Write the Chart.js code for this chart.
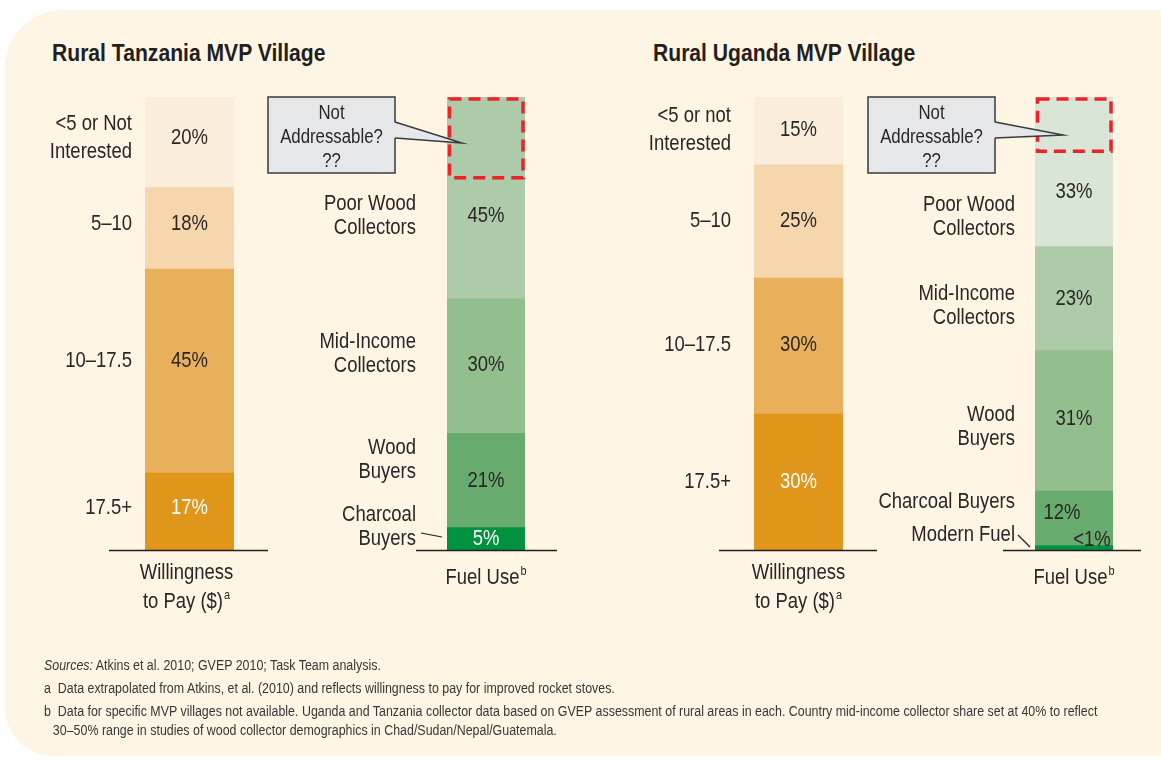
<!DOCTYPE html>
<html><head><meta charset="utf-8">
<script src="https://cdn.jsdelivr.net/npm/chart.js@4/dist/chart.umd.min.js"></script>
<style>
html,body{margin:0;padding:0;background:#fff;width:1161px;height:761px;overflow:hidden;}
#bg{position:absolute;left:5px;top:10px;width:1156px;height:746px;background:#FEF5E4;border-radius:58px 0 0 48px;}
canvas{position:absolute;left:0;top:0;}
.title{position:absolute;top:39px;font-family:"Liberation Sans",Arial,sans-serif;font-weight:bold;font-size:24px;line-height:28px;color:#231F20;white-space:nowrap;transform:scaleX(0.88);transform-origin:0 0;}
.notes{position:absolute;left:44px;top:656px;font-family:"Liberation Sans",Arial,sans-serif;font-size:14px;color:#3a3637;line-height:19px;white-space:nowrap;transform:scaleX(0.887);transform-origin:0 0;}
.notes div{margin:0 0 4px 0;}
.notes .cont{margin-top:-4px;padding-left:10px;}
</style>
</head><body>
<div id="bg"></div>
<div class="title" style="left:52px">Rural Tanzania MVP Village</div>
<div class="title" style="left:653px">Rural Uganda MVP Village</div>
<canvas id="c1" width="1161" height="761"></canvas>
<canvas id="c2" width="1161" height="761"></canvas>
<canvas id="c3" width="1161" height="761"></canvas>
<canvas id="c4" width="1161" height="761"></canvas>
<div class="notes">
<div><i>Sources:</i> Atkins et al. 2010; GVEP 2010; Task Team analysis.</div>
<div>a&nbsp; Data extrapolated from Atkins, et al. (2010) and reflects willingness to pay for improved rocket stoves.</div>
<div>b&nbsp; Data for specific MVP villages not available. Uganda and Tanzania collector data based on GVEP assessment of rural areas in each. Country mid-income collector share set at 40% to reflect</div>
<div class="cont">30–50% range in studies of wood collector demographics in Chad/Sudan/Nepal/Guatemala.</div>
</div>
<script>
// ---------- DATA (top segment first) ----------
const tzPayBands = [['<5 or Not','Interested'], ['5–10'], ['10–17.5'], ['17.5+']];
const tzPayShares = [20, 18, 45, 17];
const tzFuelGroups = [['Poor Wood','Collectors'], ['Mid-Income','Collectors'], ['Wood','Buyers'], ['Charcoal','Buyers']];
const tzFuelShares = [45, 30, 21, 5];
const tzFuelLabels = ['45%', '30%', '21%', '5%'];
const tzNotAddressable = 18;

const ugPayBands = [['<5 or not','Interested'], ['5–10'], ['10–17.5'], ['17.5+']];
const ugPayShares = [15, 25, 30, 30];
const ugFuelGroups = [['Poor Wood','Collectors'], ['Mid-Income','Collectors'], ['Wood','Buyers'], ['Charcoal Buyers'], ['Modern Fuel']];
const ugFuelShares = [33, 23, 31, 12, 1];
const ugFuelLabels = ['33%', '23%', '31%', '12%', '<1%'];
const ugNotAddressable = 12;

const payAxisTitle = ['Willingness', 'to Pay ($)'];
const payAxisNote = 'a';
const fuelAxisTitle = ['Fuel Use'];
const fuelAxisNote = 'b';
const calloutText = ['Not', 'Addressable?', '??'];

// ---------- STYLES ----------
const FONT = '"Liberation Sans",Arial,sans-serif';
const SX = 0.84;           // horizontal condensing of the text
const INK = '#2A2627';
const PAY_COLORS = ['#FAEDDC', '#F5D6AD', '#E8B05B', '#E0951B'];
const TZ_FUEL_COLORS = ['#ADCBA8', '#93BF8E', '#68AB6F', '#00923F'];
const UG_FUEL_COLORS = ['#D9E5D6', '#ADCBA8', '#93BF8E', '#68AB6F', '#00923F'];

const specs = [
  { id:'c1', rect:[145,234,97,550], bands:tzPayBands, values:tzPayShares, pct:tzPayShares.map(v=>v+'%'),
    colors:PAY_COLORS, gap:13, lh:28, labelDy:[-4,-4,-10,-4], pctDy:[-4,-4,-10,-4], pctDx:[0,0,0,0],
    white:[false,false,false,true], base:[-36,34], axis:payAxisTitle, note:payAxisNote, axisY:[23,52], axisDx:-3 },
  { id:'c2', rect:[447,525,97,550], bands:tzFuelGroups, values:tzFuelShares, pct:tzFuelLabels,
    colors:TZ_FUEL_COLORS, gap:31, lh:24, labelDy:[18,-12,-21,-12], pctDy:[18,-1,0,0], pctDx:[0,0,0,0],
    white:[false,false,false,true], base:[-31,32], axis:fuelAxisTitle, note:fuelAxisNote, axisY:[28], axisDx:0,
    notAddr:tzNotAddressable, callout:{gap:52, tipDx:15, tipDy:46}, leader:[-26,-17,-5,-13] },
  { id:'c3', rect:[754,843,97,550], bands:ugPayBands, values:ugPayShares, pct:ugPayShares.map(v=>v+'%'),
    colors:PAY_COLORS, gap:23, lh:28, labelDy:[-1,-1,-1,0], pctDy:[-1,-1,-1,0], pctDx:[0,0,0,0],
    white:[false,false,false,true], base:[-35,34], axis:payAxisTitle, note:payAxisNote, axisY:[23,52], axisDx:0 },
  { id:'c4', rect:[1035,1113,97,550], bands:ugFuelGroups, values:ugFuelShares, pct:ugFuelLabels,
    colors:UG_FUEL_COLORS, gap:20, lh:24, labelDy:[45,7,6,-16,-13], pctDy:[20,0,-2,-5,-8], pctDx:[0,0,0,-12,18],
    white:[false,false,false,false,false], base:[-32,28], axis:fuelAxisTitle, note:fuelAxisNote, axisY:[28], axisDx:0,
    notAddr:ugNotAddressable, callout:{gap:40, tipDx:28, tipDy:38}, leader:[-17,-15,-5,-3] }
];

function txt(ctx, t, x, y, align, size){
  ctx.save();
  ctx.font = size + 'px ' + FONT;
  ctx.textAlign = align;
  ctx.textBaseline = 'middle';
  ctx.translate(x, y);
  ctx.scale(SX, 1);
  ctx.fillText(t, 0, 0);
  ctx.restore();
}
function tw(ctx, t, size){
  ctx.save(); ctx.font = size + 'px ' + FONT;
  const w = ctx.measureText(t).width * SX; ctx.restore(); return w;
}

function decorPlugin(s){
  return {
    id:'decor'+s.id,
    afterDatasetsDraw(chart){
      const ctx = chart.ctx, a = chart.chartArea, y = chart.scales.y;
      const total = s.values.reduce((p,c)=>p+c,0);
      const cx = (a.left + a.right)/2;
      ctx.save();
      let cum = total;
      s.values.forEach((v,i)=>{
        const top = y.getPixelForValue(cum), bot = y.getPixelForValue(cum - v);
        cum -= v;
        const cy = (top + bot)/2;
        ctx.fillStyle = INK;
        const lines = s.bands[i];
        const ly = cy + s.labelDy[i] - (lines.length-1)*s.lh/2;
        lines.forEach((t,k)=>txt(ctx, t, a.left - s.gap, ly + k*s.lh, 'right', 22));
        ctx.fillStyle = s.white[i] ? '#FFFFFF' : INK;
        txt(ctx, s.pct[i], cx + s.pctDx[i], cy + s.pctDy[i], 'center', 22);
      });
      // baseline
      ctx.strokeStyle = '#231F20'; ctx.lineWidth = 1.5;
      ctx.beginPath(); ctx.moveTo(a.left + s.base[0], a.bottom + 0.5); ctx.lineTo(a.right + s.base[1], a.bottom + 0.5); ctx.stroke();
      // axis title with superscript note
      ctx.fillStyle = INK;
      s.axis.forEach((t,k)=>{
        const w = tw(ctx, t, 22);
        const last = k === s.axis.length-1;
        const ws = last ? tw(ctx, s.note, 13) + 1 : 0;
        const x0 = cx + s.axisDx - (w + ws)/2;
        const yy = a.bottom + s.axisY[k];
        txt(ctx, t, x0, yy, 'left', 22);
        if(last) txt(ctx, s.note, x0 + w + 1, yy - 7, 'left', 13);
      });
      // leader line
      if(s.leader){
        ctx.strokeStyle = '#231F20'; ctx.lineWidth = 1.2;
        ctx.beginPath();
        ctx.moveTo(a.left + s.leader[0], a.bottom + s.leader[1]);
        ctx.lineTo(a.left + s.leader[2], a.bottom + s.leader[3]);
        ctx.stroke();
      }
      // not addressable dashed box + callout
      if(s.notAddr){
        const yb = y.getPixelForValue(total - s.notAddr);
        ctx.strokeStyle = '#EE2229'; ctx.lineWidth = 3.5; ctx.setLineDash([12,7]);
        ctx.strokeRect(a.left + 2.5, a.top + 2, (a.right - a.left) - 4.5, yb - a.top - 2);
        ctx.setLineDash([]);
        const c = s.callout, bw = 127, bh = 76;
        const bx = a.left - c.gap - bw, by = a.top;
        ctx.fillStyle = '#E6E7E9'; ctx.strokeStyle = '#3A3A3C'; ctx.lineWidth = 1.5;
        ctx.fillRect(bx, by, bw, bh); ctx.strokeRect(bx, by, bw, bh);
        const tx = a.left + c.tipDx, ty = a.top + c.tipDy;
        ctx.beginPath();
        ctx.moveTo(bx + bw - 2, by + 25); ctx.lineTo(tx, ty); ctx.lineTo(bx + bw - 2, by + 41); ctx.closePath(); ctx.fill();
        ctx.beginPath();
        ctx.moveTo(bx + bw, by + 25); ctx.lineTo(tx, ty); ctx.lineTo(bx + bw, by + 41); ctx.stroke();
        ctx.fillStyle = INK;
        calloutText.forEach((t,k)=>txt(ctx, t, bx + bw/2, by + 16 + k*24, 'center', 20));
      }
      ctx.restore();
    }
  };
}

specs.forEach(s=>{
  const total = s.values.reduce((p,c)=>p+c,0);
  const n = s.values.length;
  const datasets = [];
  for(let i = n-1; i >= 0; i--){
    datasets.push({ data:[s.values[i]], backgroundColor:s.colors[i], borderWidth:0,
      barPercentage:1, categoryPercentage:1 });
  }
  new Chart(document.getElementById(s.id), {
    type:'bar',
    data:{ labels:[''], datasets },
    options:{
      responsive:false, animation:false, devicePixelRatio:1,
      layout:{ padding:{ left:s.rect[0], right:1161 - s.rect[1], top:s.rect[2], bottom:761 - s.rect[3] } },
      plugins:{ legend:{display:false}, tooltip:{enabled:false} },
      scales:{
        x:{ stacked:true, display:false, grid:{display:false} },
        y:{ stacked:true, display:false, min:0, max:total, grid:{display:false} }
      }
    },
    plugins:[decorPlugin(s)]
  });
});
</script>
</body></html>
